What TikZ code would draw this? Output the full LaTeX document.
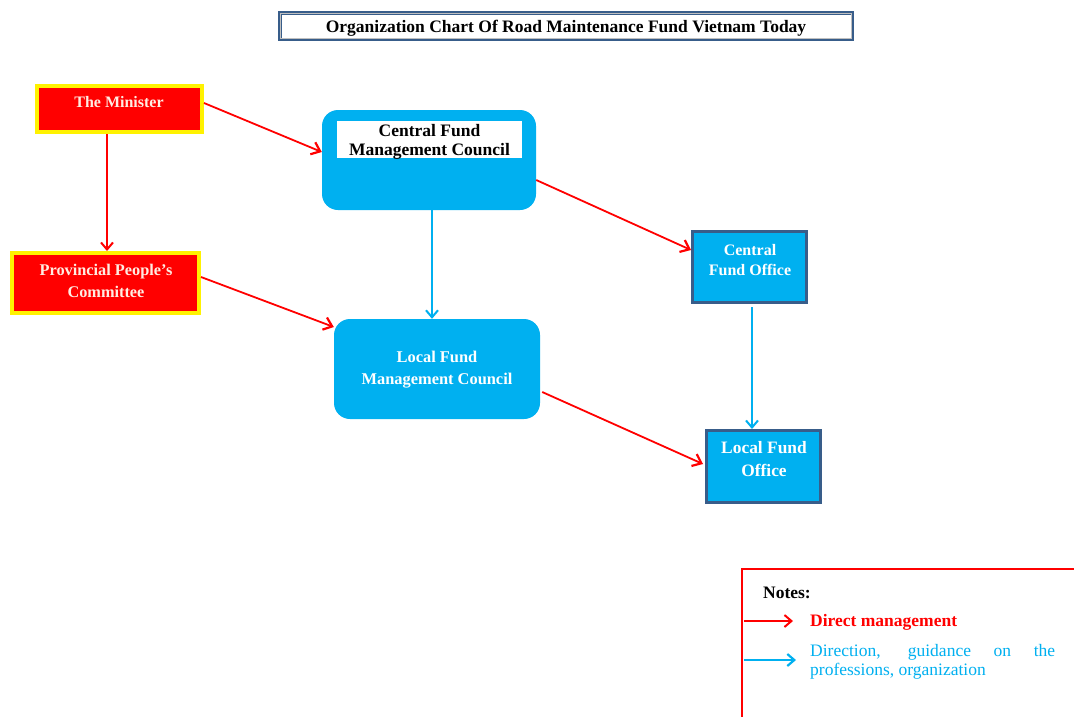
\documentclass[tikz,border=0pt]{standalone}
\usepackage{fontspec}
\setmainfont{Liberation Serif}
\usetikzlibrary{arrows.meta,calc}
\definecolor{cyanf}{RGB}{0,176,240}
\definecolor{dblue}{RGB}{56,93,138}
\definecolor{cream}{RGB}{255,236,226}
\begin{document}
\begin{tikzpicture}[x=1pt,y=-1pt,
  redbox/.style={draw=yellow, line width=4pt, fill=red, rectangle, inner sep=0pt},
  cbox/.style={fill=cyanf, rounded corners=16pt, rectangle, inner sep=0pt},
  obox/.style={draw=dblue, line width=3pt, fill=cyanf, rectangle, inner sep=0pt},
  bfont/.style={font=\bfseries\fontsize{16}{21}\selectfont},
  nfont/.style={font=\bfseries\fontsize{17.5}{21}\selectfont},
  wtxt/.style={bfont, text=white, align=center, inner sep=0pt},
  ctxt/.style={bfont, text=cream, align=center, inner sep=0pt},
  redarr/.style={red, line width=1.8pt, -{Straight Barb[length=8pt,width=13pt,line width=2.2pt]}},
  redthin/.style={red, line width=1.2pt, -{Straight Barb[length=7pt,width=12pt,line width=2pt]}},
  bluearr/.style={cyanf, line width=1.3pt, -{Straight Barb[length=7pt,width=12pt,line width=2pt]}},
  bluethick/.style={cyanf, line width=2pt, -{Straight Barb[length=7pt,width=12pt,line width=2.2pt]}}
]
\useasboundingbox (0,0) rectangle (1074,716);
\clip (0,0) rectangle (1074,716);
\fill[white] (0,0) rectangle (1074,716);

% title
\node[draw=dblue, line width=3.5pt, fill=white, minimum width=572.5pt, minimum height=26.5pt, inner sep=0pt] (title) at (566,26) {};
\draw[black!25, line width=0.8pt] ($(title.north west)+(2.5,2.5)$) rectangle ($(title.south east)+(-2.5,-2.5)$);
\node[nfont, inner sep=0pt] (titletxt) at (566,28.5) {Organization Chart Of Road Maintenance Fund Vietnam Today};

% red boxes
\node[redbox, minimum width=165pt, minimum height=46pt] (min) at (119.5,109) {};
\node[ctxt] (mintxt) at (119,102) {The Minister};
\node[redbox, minimum width=187pt, minimum height=60pt] (prov) at (105.5,283) {};
\node[ctxt, font=\bfseries\fontsize{16.3}{22}\selectfont] (provtxt) at (106,280.5) {Provincial People’s\\Committee};

% councils
\node[cbox, minimum width=214pt, minimum height=100pt] (cfmc) at (429,160) {};
\node[fill=white, minimum width=185pt, minimum height=37pt, inner sep=0pt, align=center, text=black,
      font=\bfseries\fontsize{17.5}{19}\selectfont] (cfmcbox) at (429.5,139.5) {};
\node[inner sep=0pt, align=center, text=black,
      font=\bfseries\fontsize{17.5}{19}\selectfont] (cfmctxt) at (429.5,141.5) {Central Fund\\Management Council};
\node[cbox, minimum width=206pt, minimum height=100pt] (lfmc) at (437,369) {};
\node[wtxt, font=\bfseries\fontsize{16.4}{22}\selectfont] (lfmctxt) at (437,369.5) {Local Fund\\Management Council};

% offices
\node[obox, minimum width=114pt, minimum height=71pt] (cfo) at (749.5,267) {};
\node[wtxt, font=\bfseries\fontsize{16}{20}\selectfont] (cfotxt) at (750,260.5) {Central\\Fund Office};
\node[obox, minimum width=114pt, minimum height=72pt] (lfo) at (763.5,466.5) {};
\node[wtxt, font=\bfseries\fontsize{17.4}{23}\selectfont] (lfotxt) at (764,459.5) {Local Fund\\Office};

% connectors
\draw[redarr] ([yshift=6pt]min.east) -- ([yshift=8pt]cfmc.west);
\draw[redthin] ([xshift=-12.5pt]min.south) -- ([xshift=1.5pt]prov.north);
\draw[redarr] ([yshift=6pt]prov.east) -- ([yshift=42pt]lfmc.west);
\draw[redarr] ([yshift=-20pt]cfmc.east) -- ([yshift=17pt]cfo.west);
\draw[redarr] ([xshift=2pt,yshift=-23pt]lfmc.east) -- ([xshift=-2pt,yshift=2.5pt]lfo.west);
\draw[bluearr] ([xshift=3pt]cfmc.south) -- ([xshift=-5pt]lfmc.north);
\draw[bluearr] ([xshift=2.5pt,yshift=-3pt]cfo.south) -- ([xshift=-11.5pt]lfo.north);

% notes
\node[draw=red, line width=2pt, minimum width=360pt, minimum height=170pt, anchor=north west, inner sep=0pt] (notes) at (741,568) {};
\node[nfont, anchor=west, inner sep=0pt] (notestxt) at (763,593) {Notes:};
\coordinate (l1a) at (744,621);
\coordinate (l1b) at (793,621);
\draw[redthin] (l1a) -- (l1b);
\node[nfont, text=red, anchor=west, inner sep=0pt] (l1txt) at (810,622) {Direct management};
\coordinate (l2a) at (744,660);
\coordinate (l2b) at (796,660);
\draw[bluethick] (l2a) -- (l2b);
\node[anchor=north west, inner sep=0pt, align=left, text=cyanf,
      font=\fontsize{17.5}{19}\selectfont] (l2txt) at (810,644)
  {\makebox[245pt][s]{Direction, guidance on the}\\professions, organization};
\end{tikzpicture}
\end{document}
